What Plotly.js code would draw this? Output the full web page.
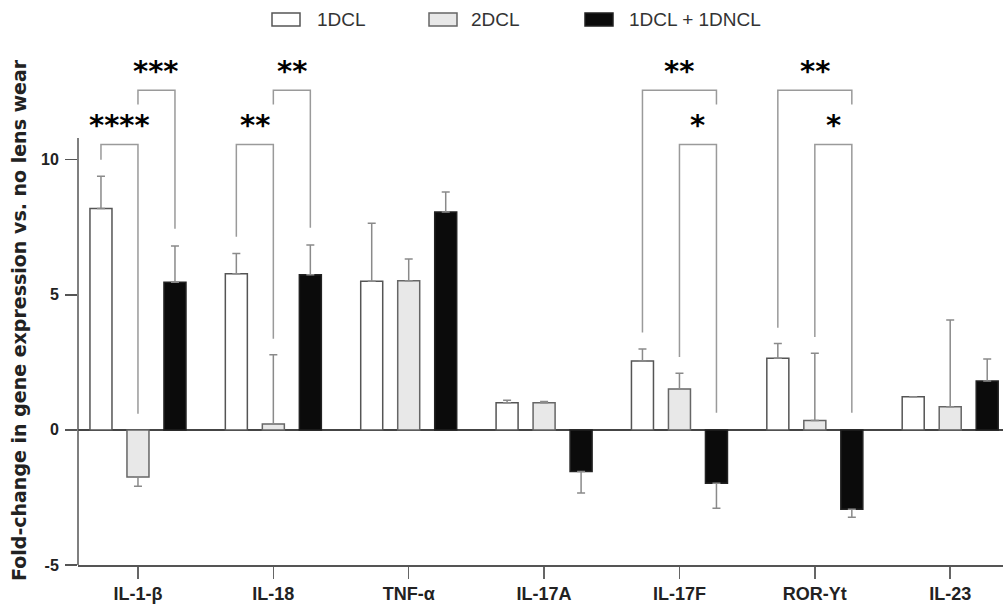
<!DOCTYPE html>
<html>
<head>
<meta charset="utf-8">
<script src="https://cdn.plot.ly/plotly-3.0.1.min.js"></script>
<style>html,body{margin:0;padding:0;background:#fff}#chart{width:1003px;height:607px}</style>
</head>
<body>
<div id="chart"></div>
<script>
// ---- data ----
const categories = ['IL-1-β', 'IL-18', 'TNF-α', 'IL-17A', 'IL-17F', 'ROR-Yt', 'IL-23'];
const seriesNames = ['1DCL', '2DCL', '1DCL + 1DNCL'];
const dcl1 = [8.19, 5.78, 5.50, 1.00, 2.55, 2.65, 1.23];
const dcl1Err = [1.20, 0.75, 2.15, 0.10, 0.44, 0.55, 0.00];
const dcl2 = [-1.74, 0.22, 5.52, 1.00, 1.51, 0.35, 0.86];
const dcl2Err = [0.35, 2.56, 0.80, 0.05, 0.59, 2.49, 3.21];
const dncl = [5.46, 5.74, 8.06, -1.54, -1.97, -2.94, 1.81];
const dnclErr = [1.35, 1.10, 0.74, 0.80, 0.93, 0.29, 0.81];
const yTicks = [-5, 0, 5, 10];

// significance brackets: category index, bar indices, labels
const brackets = [
  {cat: 0, a: 0, b: 1, label: '****', top: 10.56, endA: 10.0, endB: 0.6, ly: 11.3},
  {cat: 0, a: 1, b: 2, label: '***',  top: 12.57, endA: 12.04, endB: 7.44, ly: 13.3},
  {cat: 1, a: 0, b: 1, label: '**',   top: 10.56, endA: 7.15, endB: 3.37, ly: 11.3},
  {cat: 1, a: 1, b: 2, label: '**',   top: 12.57, endA: 12.04, endB: 7.48, ly: 13.3},
  {cat: 4, a: 0, b: 2, label: '**',   top: 12.57, endA: 3.6, endB: 12.04, ly: 13.3},
  {cat: 4, a: 1, b: 2, label: '*',    top: 10.56, endA: 2.7, endB: 0.63, ly: 11.3},
  {cat: 5, a: 0, b: 2, label: '**',   top: 12.57, endA: 3.78, endB: 12.04, ly: 13.3},
  {cat: 5, a: 1, b: 2, label: '*',    top: 10.56, endA: 3.44, endB: 0.63, ly: 11.3}
];

// ---- styling ----
const fills = ['#ffffff', '#e8e8e8', '#0b0b0b'];
const outlines = ['#555555', '#666666', '#222222'];
const values = [dcl1, dcl2, dncl];
const errs = [dcl1Err, dcl2Err, dnclErr];
const bargap = 0.18, bargroupgap = 0.405;
const slot = (1 - bargap) / 3;

const traces = values.map((v, k) => ({
  type: 'bar',
  name: seriesNames[k],
  x: categories,
  y: v,
  marker: {color: fills[k], line: {color: outlines[k], width: 1.5}},
  error_y: {
    type: 'data', symmetric: false,
    array: v.map((d, i) => d >= 0 ? errs[k][i] : 0),
    arrayminus: v.map((d, i) => d < 0 ? errs[k][i] : 0),
    color: '#8a8a8a', thickness: 1.5, width: 4
  },
  showlegend: false
}));

const shapes = [];
const annotations = [];
const bcol = '#9a9a9a';
brackets.forEach(br => {
  const xa = br.cat + (br.a - 1) * slot;
  const xb = br.cat + (br.b - 1) * slot;
  shapes.push({type: 'path', xref: 'x', yref: 'y',
    path: `M${xa},${br.endA} L${xa},${br.top} L${xb},${br.top} L${xb},${br.endB}`,
    line: {color: bcol, width: 1.5}});
  annotations.push({xref: 'x', yref: 'y', x: (xa + xb) / 2, y: br.ly, text: br.label,
    showarrow: false, xanchor: 'center', yanchor: 'middle',
    font: {family: 'DejaVu Sans', size: 29, color: '#000', weight: 'bold'}});
});

// plot geometry (pixels)
const L = 78, R = 0, T = 57, B = 42, W = 1003, H = 607;
const pw = W - L - R, ph = H - T - B;
const px2x = p => (p - L) / pw;
const py2y = p => (H - B - p) / ph;

// y axis line (stops a little above 10, like the reference)
shapes.push({type: 'line', xref: 'paper', yref: 'y', x0: 0, x1: 0, y0: -5, y1: 10.8,
  line: {color: '#555', width: 1.5}});

// custom legend
const legendBoxes = [[272, 300], [429, 457], [585, 613]];
const legendText = [315, 469, 627];
legendBoxes.forEach((bx, k) => {
  shapes.push({type: 'rect', xref: 'paper', yref: 'paper',
    x0: px2x(bx[0]), x1: px2x(bx[1]), y0: py2y(26), y1: py2y(13),
    fillcolor: fills[k], line: {color: outlines[k], width: 1.5}});
  annotations.push({xref: 'paper', yref: 'paper', x: px2x(legendText[k]), y: py2y(19.5),
    xanchor: 'left', yanchor: 'middle', showarrow: false, text: seriesNames[k],
    font: {family: 'Liberation Sans', size: 19, color: '#333'}});
});

// y axis title
annotations.push({xref: 'paper', yref: 'paper', x: px2x(19), y: py2y(320),
  xanchor: 'center', yanchor: 'middle', textangle: -90, showarrow: false,
  text: 'Fold-change in gene expression vs. no lens wear',
  font: {family: 'DejaVu Sans', size: 19, color: '#222', weight: 'bold'}});

const layout = {
  width: W, height: H,
  margin: {l: L, r: R, t: T, b: B, pad: 0},
  paper_bgcolor: '#fff', plot_bgcolor: '#fff',
  barmode: 'group', bargap: bargap, bargroupgap: bargroupgap,
  showlegend: false,
  xaxis: {
    range: [-0.443, 6.39], showgrid: false, showline: true, linecolor: '#555', linewidth: 1.5,
    ticks: 'outside', ticklen: 12, tickcolor: '#666', tickwidth: 1.5,
    tickfont: {family: 'Liberation Sans', size: 18, color: '#222', weight: 'bold'},
    fixedrange: true
  },
  yaxis: {
    range: [-5, 13.8], showgrid: false, showline: false,
    tickvals: yTicks, ticktext: yTicks.map(String),
    ticks: 'outside', ticklen: 12, tickcolor: '#555', tickwidth: 1.5,
    ticklabelstandoff: 3,
    tickfont: {family: 'Liberation Sans', size: 16, color: '#222', weight: 'bold'},
    zeroline: true, zerolinecolor: '#444', zerolinewidth: 2,
    fixedrange: true
  },
  shapes: shapes,
  annotations: annotations
};

Plotly.newPlot('chart', traces, layout, {staticPlot: true, displayModeBar: false});
</script>
</body>
</html>
